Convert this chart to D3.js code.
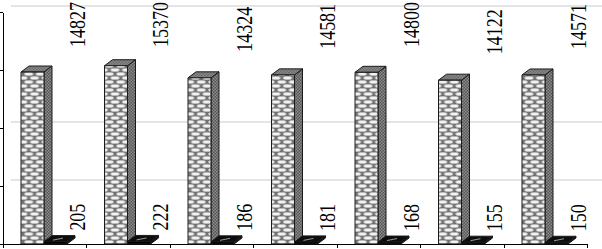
<!DOCTYPE html>
<html>
<head>
<meta charset="utf-8">
<script src="https://cdn.jsdelivr.net/npm/d3@7"></script>
<style>
  html, body { margin: 0; padding: 0; background: #fff; overflow: hidden; }
  svg { display: block; }
</style>
</head>
<body>
<div id="chart"></div>
<script>
  // chart values
  var categories = ["1", "2", "3", "4", "5", "6", "7"];
  var seriesNames = ["total", "small"];
  var totalValues = [14827, 15370, 14324, 14581, 14800, 14122, 14571];
  var smallValues = [205, 222, 186, 181, 168, 155, 150];
  var yTicks = [0, 5000, 10000, 15000, 20000];
  var gridValues = [5000, 10000, 20000];

  var width = 602, height = 249;
  var depthX = 8, depthY = -6; // 3d offset of the back face

  var svg = d3.select("#chart").append("svg")
      .attr("width", width)
      .attr("height", height);

  var defs = svg.append("defs");

  // front face: grey with rows of light ovals
  var pf = defs.append("pattern").attr("id", "front")
      .attr("patternUnits", "userSpaceOnUse")
      .attr("width", 11.5).attr("height", 8);
  pf.append("rect").attr("width", 11.5).attr("height", 8).attr("fill", "#6f6f6f");
  [[5.75, 2], [0, 6], [11.5, 6]].forEach(function(c) {
    pf.append("ellipse").attr("cx", c[0]).attr("cy", c[1])
      .attr("rx", 4.4).attr("ry", 1.8)
      .attr("fill", "#f2f2f2").attr("stroke", "#b0b0b0").attr("stroke-width", 0.8);
  });

  // side face: dark grey checker
  var ps = defs.append("pattern").attr("id", "side")
      .attr("patternUnits", "userSpaceOnUse")
      .attr("width", 3).attr("height", 3);
  ps.append("rect").attr("width", 3).attr("height", 3).attr("fill", "#555");
  ps.append("rect").attr("width", 1.5).attr("height", 1.5).attr("fill", "#8c8c8c");
  ps.append("rect").attr("x", 1.5).attr("y", 1.5).attr("width", 1.5).attr("height", 1.5).attr("fill", "#8c8c8c");

  // top face: mid grey checker
  var pt = defs.append("pattern").attr("id", "top")
      .attr("patternUnits", "userSpaceOnUse")
      .attr("width", 3).attr("height", 3);
  pt.append("rect").attr("width", 3).attr("height", 3).attr("fill", "#8a8a8a");
  pt.append("rect").attr("width", 1.5).attr("height", 1.5).attr("fill", "#6a6a6a");
  pt.append("rect").attr("x", 1.5).attr("y", 1.5).attr("width", 1.5).attr("height", 1.5).attr("fill", "#6a6a6a");

  var x0 = d3.scaleBand()
      .domain(categories)
      .range([3, 587.5]);

  var x1 = d3.scaleBand()
      .domain(seriesNames)
      .range([18, 64]);

  var y = d3.scaleLinear()
      .domain([0, 20000])
      .range([244, 12]);

  // back wall gridlines
  svg.append("g").selectAll("line")
    .data(gridValues)
    .enter()
      .append("line")
      .attr("x1", 3 + depthX)
      .attr("x2", width)
      .attr("y1", function(d) { return y(d) + depthY; })
      .attr("y2", function(d) { return y(d) + depthY; })
      .attr("stroke", "#dcdcdc")
      .attr("stroke-width", 1.5);

  // y axis, labels are cut off in the picture
  svg.append("g")
      .attr("transform", "translate(3,0)")
      .call(d3.axisLeft(y).tickValues(yTicks).tickSize(3).tickSizeOuter(0).tickFormat(""))
      .call(function(g) {
        g.selectAll("path, line").attr("stroke", "#000").attr("shape-rendering", "crispEdges");
      });

  // x axis line with ticks on category boundaries
  var xAxis = svg.append("g");
  xAxis.append("line")
      .attr("x1", 3).attr("x2", x0.range()[1])
      .attr("y1", y(0)).attr("y2", y(0))
      .attr("stroke", "#000")
      .attr("shape-rendering", "crispEdges");
  xAxis.selectAll("line.tick")
    .data(categories.concat(["end"]))
    .enter()
      .append("line")
      .attr("class", "tick")
      .attr("x1", function(d) { return d === "end" ? x0.range()[1] : x0(d); })
      .attr("x2", function(d) { return d === "end" ? x0.range()[1] : x0(d); })
      .attr("y1", y(0))
      .attr("y2", y(0) + 4)
      .attr("stroke", "#000")
      .attr("shape-rendering", "crispEdges");

  var rows = categories.map(function(c, i) {
    return [
      {cat: c, series: "total", value: totalValues[i], gap: 26},
      {cat: c, series: "small", value: smallValues[i], gap: 11}
    ];
  });

  function pts(a) {
    return a.map(function(p) { return p.join(","); }).join(" ");
  }

  // draw the 3d bars, left to right
  var bars = svg.append("g");
  rows.forEach(function(row) {
    row.forEach(function(d) {
      var xl = x0(d.cat) + x1(d.series),
          xr = xl + x1.bandwidth(),
          yt = y(d.value),
          yb = y(0);
      var dark = d.series === "small";
      var g = bars.append("g")
          .attr("stroke", "#1a1a1a")
          .attr("stroke-width", 1)
          .attr("stroke-linejoin", "round");

      // side face
      g.append("polygon")
          .attr("points", pts([[xr, yt], [xr + depthX, yt + depthY], [xr + depthX, yb + depthY], [xr, yb]]))
          .attr("fill", dark ? "#111" : "url(#side)");
      // top face
      g.append("polygon")
          .attr("points", pts([[xl, yt], [xl + depthX, yt + depthY], [xr + depthX, yt + depthY], [xr, yt]]))
          .attr("fill", dark ? "#0d0d0d" : "url(#top)");
      // front face
      g.append("rect")
          .attr("x", xl)
          .attr("y", yt)
          .attr("width", xr - xl)
          .attr("height", yb - yt)
          .attr("fill", dark ? "#000" : "url(#front)");

      if (dark) {
        // light streak on the black top
        g.append("line")
            .attr("x1", xl + 9).attr("y1", yt - 1.5)
            .attr("x2", xl + 19).attr("y2", yt - 3.5)
            .attr("stroke", "#bbb")
            .attr("stroke-width", 0.8);
      }
    });
  });

  // rotated value labels, kept inside the top edge
  // the source image is stretched sideways, so the glyphs are widened a bit
  var labels = svg.append("g")
      .attr("fill", "#000")
      .style("font-family", "'Liberation Serif', 'Times New Roman', Tinos, 'DejaVu Serif', serif")
      .style("font-size", "18px");

  rows.forEach(function(row) {
    row.forEach(function(d) {
      var lx = x0(d.cat) + 74,
          ly = Math.max(y(d.value) - d.gap, 47);
      labels.append("text")
          .attr("transform", "translate(" + lx + "," + ly + ") scale(1.25,1) rotate(-90)")
          .attr("dy", "0.35em")
          .attr("text-anchor", "start")
          .text(d.value);
    });
  });
</script>
</body>
</html>
